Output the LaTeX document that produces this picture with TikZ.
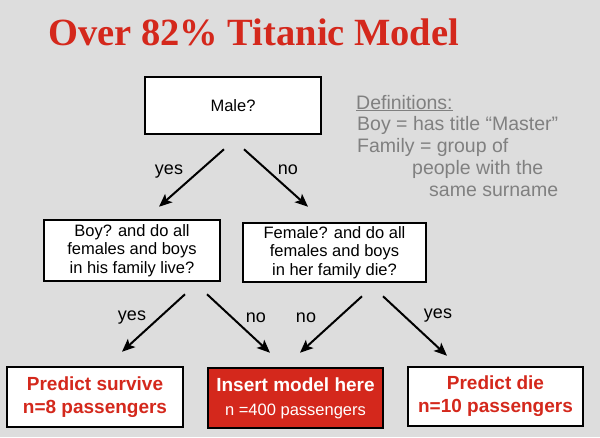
\documentclass[tikz,border=0pt]{standalone}
\usepackage{fontspec}
\setmainfont{Liberation Sans}
\newfontfamily\titlefont{Liberation Serif}
\usetikzlibrary{arrows.meta}
\definecolor{bg}{RGB}{221,221,221}
\definecolor{tred}{RGB}{212,40,28}
\definecolor{defgray}{RGB}{128,128,128}
\begin{document}
\begin{tikzpicture}[x=1pt,y=-1pt,
  box/.style={draw=black, line width=2.5pt, fill=white, inner sep=0pt, align=center},
  qtext/.style={font=\fontsize{16.5}{18.5}\selectfont},
  arr/.style={line width=2pt, -{Stealth[length=13pt,width=11pt,inset=3pt]}},
  lab/.style={font=\fontsize{18}{20}\selectfont},
  outtext/.style={font=\bfseries\fontsize{19}{23}\selectfont, text=tred},
  deftext/.style={anchor=base west, inner sep=0pt, text=defgray, font=\fontsize{19.5}{22}\selectfont}]
\fill[bg] (0,0) rectangle (600,437);
\useasboundingbox (0,0) rectangle (600,437);

\node[anchor=base west, inner sep=0pt, text=tred,
  font=\titlefont\bfseries\fontsize{38.5}{40}\selectfont] (title) at (48,45) {Over 82\% Titanic Model};

\node[box, minimum width=176pt, minimum height=57pt, font=\fontsize{16.5}{18}\selectfont] (male) at (233,105.5) {Male?};

\node[box, qtext, minimum width=176pt, minimum height=61pt] (boy) at (132,250.5)
  {Boy? and do all\\females and boys\\in his family live?};
\node[box, qtext, minimum width=183pt, minimum height=59pt] (fem) at (334.5,252.5)
  {Female? and do all\\females and boys\\in her family die?};

\node[box, outtext, minimum width=176pt, minimum height=60pt] (surv) at (95,397)
  {Predict survive\\n=8 passengers};
\node[box, fill=tred, text=white, minimum width=175pt, minimum height=60pt,
  font=\fontsize{19}{24}\selectfont] (model) at (295.5,398)
  {\bfseries Insert model here\\{\fontsize{16.5}{24}\selectfont n =400 passengers}};
\node[box, outtext, minimum width=175pt, minimum height=59pt] (die) at (495.5,396.5)
  {Predict die\\n=10 passengers};

% definitions
\node[deftext] (d1) at (356,109) {\underline{Definitions:}};
\node[deftext] (d2) at (357,130.5) {Boy = has title “Master”};
\node[deftext] (d3) at (357,152.5) {Family = group of};
\node[deftext] (d4) at (412,174.5) {people with the};
\node[deftext] (d5) at (429,196.5) {same surname};

% arrows
\draw[arr] ([xshift=-9pt,yshift=-14pt]male.south) -- ([xshift=27pt,yshift=12pt]boy.north);
\draw[arr] ([xshift=11pt,yshift=-14pt]male.south) -- ([xshift=-26.5pt,yshift=15pt]fem.north);
\draw[arr] ([xshift=53pt,yshift=-12pt]boy.south) -- ([xshift=27pt,yshift=14pt]surv.north);
\draw[arr] ([xshift=75pt,yshift=-12pt]boy.south) -- ([xshift=-25.5pt,yshift=14pt]model.north);
\draw[arr] ([xshift=27.5pt,yshift=-13pt]fem.south) -- ([xshift=4.5pt,yshift=14pt]model.north);
\draw[arr] ([xshift=48.5pt,yshift=-13pt]fem.south) -- ([xshift=-48.5pt,yshift=10pt]die.north);

% labels
\node[lab] (l1) at (169,172) {yes};
\node[lab] (l2) at (288,170) {no};
\node[lab] (l3) at (132,318) {yes};
\node[lab] (l4) at (256,318) {no};
\node[lab] (l5) at (306,318) {no};
\node[lab] (l6) at (438,316) {yes};
\end{tikzpicture}
\end{document}
